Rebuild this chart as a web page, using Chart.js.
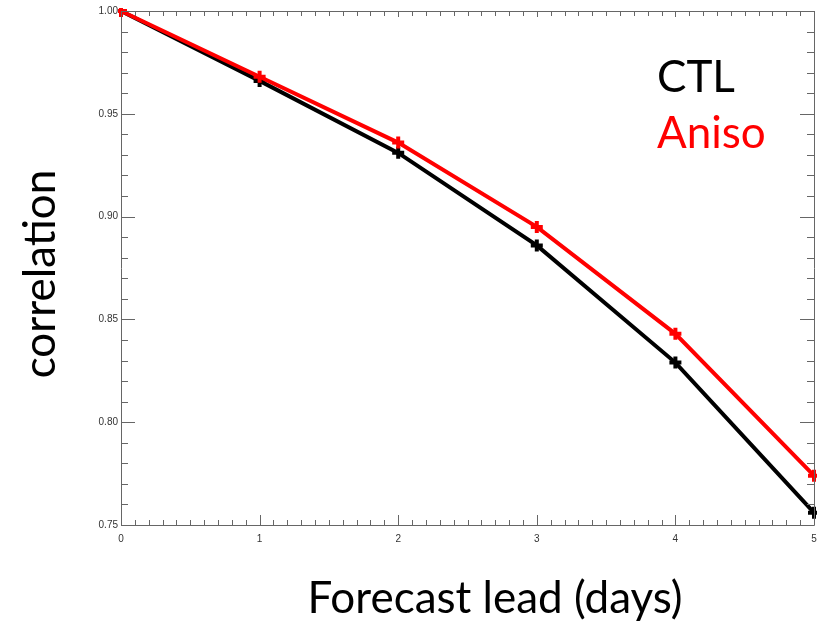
<!DOCTYPE html>
<html>
<head>
<meta charset="utf-8">
<script src="https://cdn.jsdelivr.net/npm/chart.js@4/dist/chart.umd.min.js"></script>
<style>
  html, body { margin: 0; padding: 0; background: #ffffff; }
  #wrap { position: relative; width: 819px; height: 629px; }
</style>
</head>
<body>
<div id="wrap"><canvas id="c" width="819" height="629"></canvas></div>
<script>
// ---- data ----
const leadDays = [0, 1, 2, 3, 4, 5];
const ctlValues = [1.000, 0.966, 0.931, 0.886, 0.829, 0.756];
const anisoValues = [1.000, 0.968, 0.936, 0.895, 0.843, 0.774];
const seriesNames = ['CTL', 'Aniso'];
const seriesColors = ['#000000', '#ff0000'];
const xTitle = 'Forecast lead (days)';
const yTitle = 'correlation';
const xTickValues = [0, 1, 2, 3, 4, 5];
const yTickValues = [0.75, 0.80, 0.85, 0.90, 0.95, 1.00];

const bigFont = '"Lato", "Open Sans", sans-serif';

// frame + minor/major inward ticks on all four sides
const framePlugin = {
  id: 'frame',
  afterDatasetsDraw(chart) {
    const { ctx, chartArea: a, scales: { x, y } } = chart;
    ctx.save();
    ctx.strokeStyle = '#666666';
    ctx.lineWidth = 1;
    ctx.beginPath();
    ctx.rect(Math.round(a.left) + 0.5, Math.round(a.top) + 0.5,
             Math.round(a.right - a.left), Math.round(a.bottom - a.top));
    ctx.stroke();
    ctx.beginPath();
    // x ticks: 10 minor per unit
    for (let i = 0; i <= 50; i++) {
      const v = i / 10;
      const px = Math.round(x.getPixelForValue(v)) + 0.5;
      const major = i % 10 === 0;
      const lb = major ? 10 : 5;
      const lt = major ? 6 : 5;
      ctx.moveTo(px, a.bottom); ctx.lineTo(px, a.bottom - lb);
      ctx.moveTo(px, a.top); ctx.lineTo(px, a.top + lt);
    }
    // y ticks: minor every 0.01
    for (let i = 0; i <= 25; i++) {
      const v = 0.75 + i * 0.01;
      const py = Math.round(y.getPixelForValue(v)) + 0.5;
      const major = i % 5 === 0;
      const len = major ? 14 : 7;
      ctx.moveTo(a.left, py); ctx.lineTo(a.left + len, py);
      ctx.moveTo(a.right, py); ctx.lineTo(a.right - len, py);
    }
    ctx.stroke();
    ctx.restore();
  },
  afterDraw(chart) {
    const { ctx } = chart;
    ctx.save();
    ctx.font = '44px ' + bigFont;
    ctx.textBaseline = 'alphabetic';
    ctx.textAlign = 'left';
    ctx.fillStyle = seriesColors[0];
    ctx.fillText(seriesNames[0], 657, 92);
    ctx.fillStyle = seriesColors[1];
    ctx.fillText(seriesNames[1], 657, 148);
    // axis titles
    ctx.fillStyle = '#000000';
    ctx.textAlign = 'center';
    ctx.fillText(xTitle, 495, 613);
    ctx.translate(55, 274);
    ctx.rotate(-Math.PI / 2);
    ctx.fillText(yTitle, 0, 0);
    ctx.restore();
  }
};

const chart = new Chart(document.getElementById('c'), {
  type: 'line',
  data: {
    labels: leadDays,
    datasets: [
      {
        label: seriesNames[0],
        data: leadDays.map((d, i) => ({ x: d, y: ctlValues[i] })),
        borderColor: seriesColors[0],
        backgroundColor: seriesColors[0],
        borderWidth: 4,
        pointStyle: 'cross',
        pointRadius: 6,
        pointBorderWidth: 4,
        clip: 3,
        order: 1
      },
      {
        label: seriesNames[1],
        data: leadDays.map((d, i) => ({ x: d, y: anisoValues[i] })),
        borderColor: seriesColors[1],
        backgroundColor: seriesColors[1],
        borderWidth: 4,
        pointStyle: 'cross',
        pointRadius: 6,
        pointBorderWidth: 4,
        clip: 3,
        order: 0
      }
    ]
  },
  options: {
    responsive: false,
    animation: false,
    layout: { autoPadding: false, padding: { top: 11, right: 5, left: 0, bottom: 0 } },
    plugins: { legend: { display: false }, tooltip: { enabled: false } },
    scales: {
      x: {
        type: 'linear',
        min: 0, max: 5,
        afterBuildTicks(scale) { scale.ticks = xTickValues.map(v => ({ value: v })); },
        afterFit(scale) { scale.height = 104; scale.paddingLeft = 0; scale.paddingRight = 0; },
        grid: { display: false, drawTicks: false },
        border: { display: false },
        ticks: {
          padding: 8,
          color: '#333333',
          font: { family: '"Liberation Sans", Arial, sans-serif', size: 10 },
          maxRotation: 0,
          callback: v => String(v)
        }
      },
      y: {
        type: 'linear',
        min: 0.75, max: 1.0,
        afterBuildTicks(scale) { scale.ticks = yTickValues.map(v => ({ value: v })); },
        afterFit(scale) { scale.width = 121; scale.paddingTop = 0; scale.paddingBottom = 0; },
        grid: { display: false, drawTicks: false },
        border: { display: false },
        ticks: {
          padding: 3,
          color: '#333333',
          font: { family: '"Liberation Sans", Arial, sans-serif', size: 10 },
          callback: v => v.toFixed(2)
        }
      }
    }
  },
  plugins: [framePlugin]
});
</script>
</body>
</html>
